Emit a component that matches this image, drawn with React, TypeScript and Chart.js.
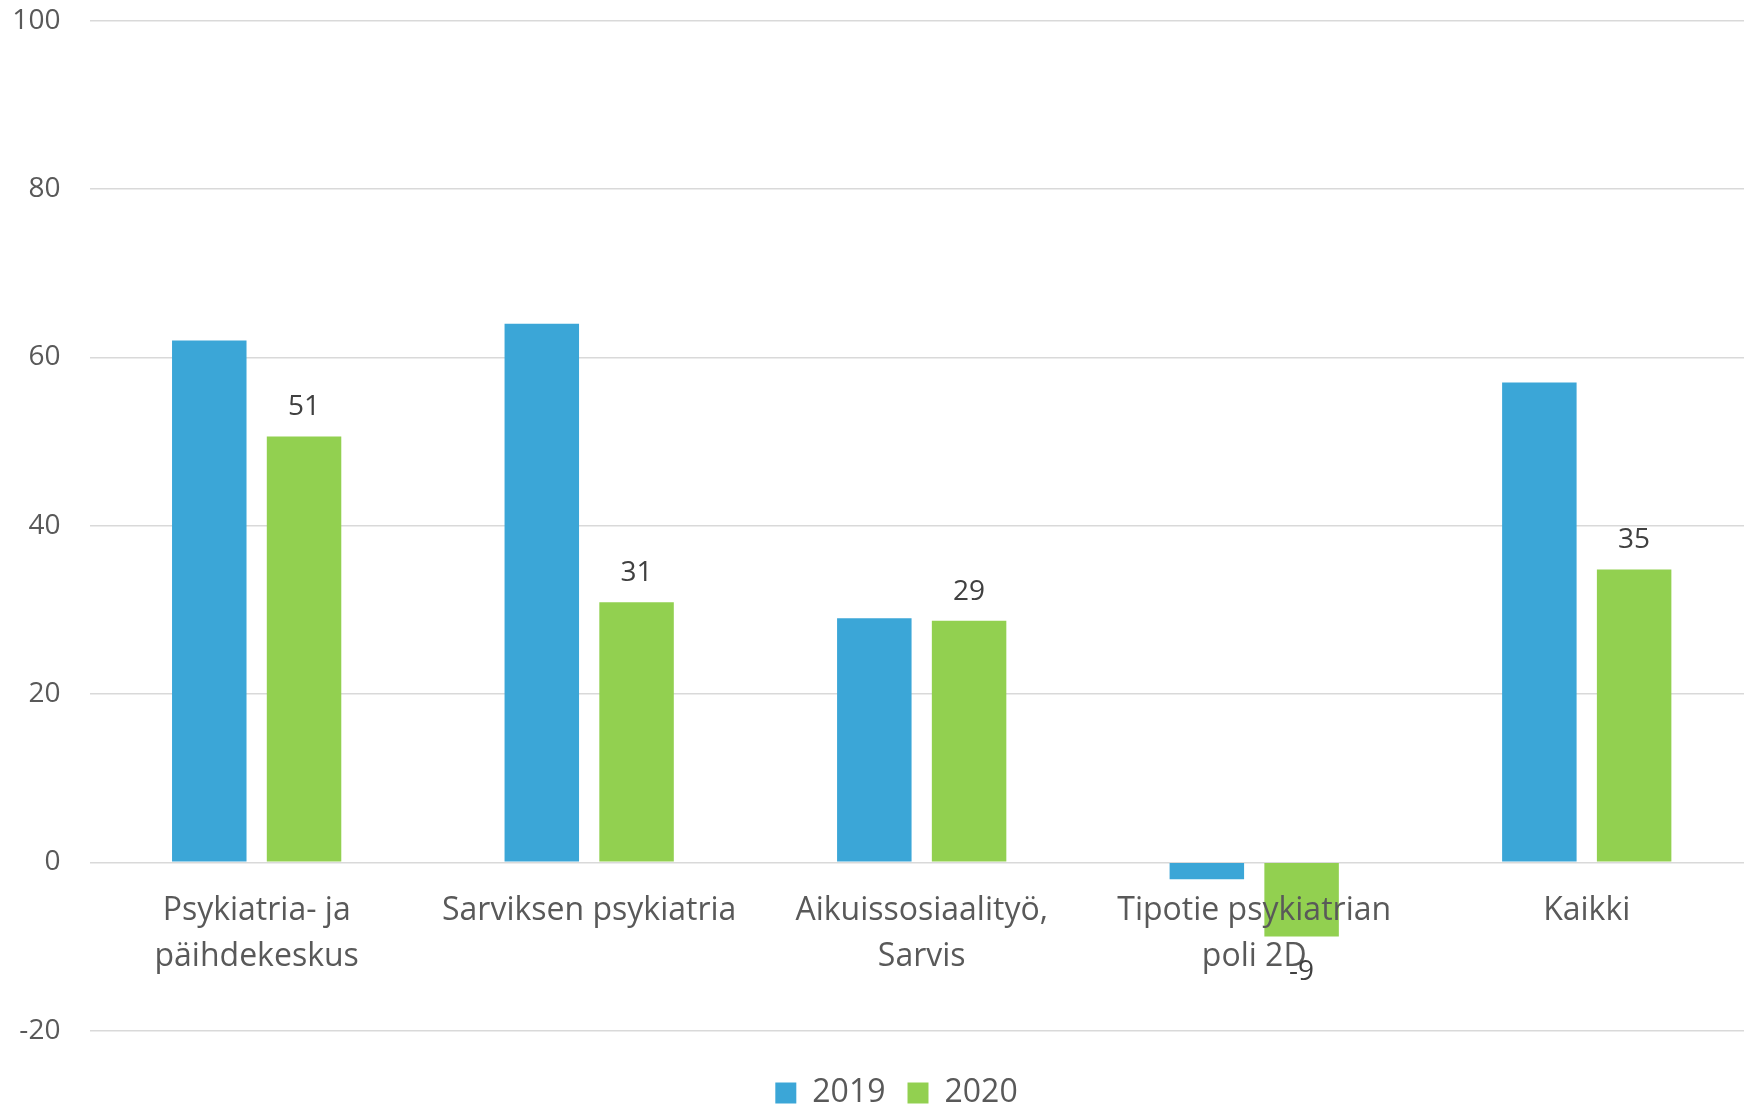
import React, { useEffect, useRef } from "react";
import { Chart, registerables } from "chart.js";

Chart.register(...registerables);

const categories: (string | string[])[] = [
  ["Psykiatria- ja", "päihdekeskus"],
  "Sarviksen psykiatria",
  ["Aikuissosiaalityö,", "Sarvis"],
  ["Tipotie psykiatrian", "poli 2D"],
  "Kaikki",
];
const series2019 = [62, 64, 29, -2, 57];
const series2020 = [50.6, 30.9, 28.7, -8.8, 34.8];
const seriesNames = ["2019", "2020"];
const yTicks = { min: -20, max: 100, step: 20 };

const BLUE = "#3BA6D7";
const GREEN = "#92D050";
const FONT = "'Open Sans', sans-serif";

const dataLabels = {
  id: "dataLabels",
  afterDraw(chart: any) {
    const ctx = chart.ctx;
    const meta = chart.getDatasetMeta(1);
    const values = chart.data.datasets[1].data as number[];
    ctx.save();
    ctx.font = `28px ${FONT}`;
    ctx.fillStyle = "#404040";
    ctx.textAlign = "center";
    ctx.textBaseline = "middle";
    meta.data.forEach((el: any, i: number) => {
      const v = values[i];
      const y = v >= 0 ? el.y - 29 : el.y + 36;
      ctx.fillText(String(Math.round(v)), el.x, y);
    });
    ctx.restore();
  },
};

const legendShift = {
  id: "legendShift",
  afterLayout(chart: any) {
    const lg = chart.legend;
    if (lg) {
      lg.left += 14;
      lg.right += 14;
    }
  },
};

export default function App() {
  const ref = useRef<HTMLCanvasElement | null>(null);
  useEffect(() => {
    if (!ref.current) return;
    const chart = new Chart(ref.current, {
      type: "bar",
      data: {
        labels: categories,
        datasets: [
          {
            label: seriesNames[0],
            data: series2019,
            backgroundColor: BLUE,
            borderWidth: 0,
            xAxisID: "x",
            yAxisID: "y",
          },
          {
            label: seriesNames[1],
            data: series2020,
            backgroundColor: GREEN,
            borderWidth: 0,
            xAxisID: "x",
            yAxisID: "y",
          },
        ],
      },
      options: {
        responsive: false,
        animation: false,
        devicePixelRatio: 1,
        layout: { padding: { top: 20.7, left: 12, right: 0, bottom: 0 } },
        datasets: {
          bar: { categoryPercentage: 0.57, barPercentage: 0.786 },
        },
        plugins: {
          tooltip: { enabled: false },
          legend: {
            position: "bottom",
            labels: {
              boxWidth: 21,
              boxHeight: 21,
              padding: 22,
              color: "#595959",
              font: { size: 32, family: FONT },
            },
          },
        },
        scales: {
          x: {
            type: "category",
            position: { y: 0 } as any,
            grid: { display: false },
            border: { display: false },
            ticks: {
              z: 1,
              color: "#595959",
              font: { size: 32, family: FONT, lineHeight: 1.425 },
              padding: 18,
              maxRotation: 0,
              autoSkip: false,
            },
          },
          x2: {
            type: "category",
            position: "bottom",
            grid: { display: false },
            border: { display: false },
            ticks: { display: false },
            afterFit: (s: any) => {
              s.height = 24.3;
            },
          },
          y: {
            type: "linear",
            min: yTicks.min,
            max: yTicks.max,
            ticks: {
              stepSize: yTicks.step,
              color: "#595959",
              font: { size: 28, family: FONT },
              padding: 30,
            },
            grid: { color: "#d9d9d9", lineWidth: 1.5, drawTicks: false },
            border: { display: false },
            afterFit: (s: any) => {
              s.width = 78.4;
              s.paddingTop = 0;
              s.paddingBottom = 0;
            },
          },
        },
      },
      plugins: [dataLabels, legendShift],
    });
    return () => chart.destroy();
  }, []);
  return (
    <div
      style={{
        position: "absolute",
        left: 0,
        top: 0,
        width: 1744,
        height: 1109,
        overflow: "hidden",
        background: "#fff",
      }}
    >
      <canvas
        ref={ref}
        width={1753}
        height={1119}
        style={{ width: 1753, height: 1119, display: "block" }}
      />
    </div>
  );
}
